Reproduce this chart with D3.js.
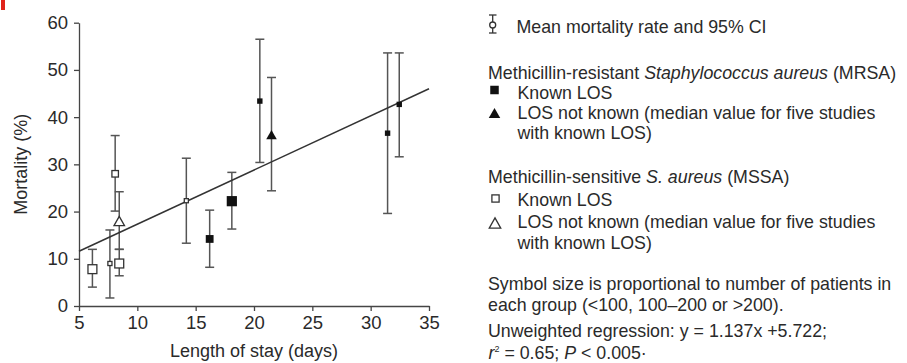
<!DOCTYPE html>
<html>
<head>
<meta charset="utf-8">
<script src="https://cdn.jsdelivr.net/npm/d3@7"></script>
<style>
  html, body { margin: 0; padding: 0; background: #fff; }
  svg { display: block; font-family: "Liberation Sans", Arial, Helvetica, sans-serif; }
</style>
</head>
<body>
<svg id="chart" width="907" height="363"></svg>
<script>
// ---- data ----
const losDays   = [6.15, 7.65, 8.1, 8.45, 8.45, 14.2, 16.2, 18.1, 20.5, 21.5, 31.45, 32.45];
const mortality = [7.8, 9.0, 28.0, 17.8, 9.0, 22.3, 14.2, 22.2, 43.4, 36.1, 36.6, 42.7];
const ciLow     = [4.0, 1.7, 20.1, 12.0, 6.4, 13.3, 8.2, 16.3, 30.4, 24.4, 19.6, 31.6];
const ciHigh    = [12.0, 16.1, 36.1, 24.2, 12.0, 31.3, 20.3, 28.3, 56.5, 48.4, 53.6, 53.6];
const organism  = ["MSSA","MSSA","MSSA","MSSA","MSSA","MSSA","MRSA","MRSA","MRSA","MRSA","MRSA","MRSA"];
const losKnown  = [true, true, true, false, true, true, true, true, true, false, true, true];
const sizeGroup = ["large","small","medium","medium","large","small","medium","large","small","medium","small","small"];
const regressionLos  = [5, 35];
const regressionMort = [11.6, 46.0];
const xTicks = [5, 10, 15, 20, 25, 30, 35];
const yTicks = [0, 10, 20, 30, 40, 50, 60];
const xLabel = "Length of stay (days)";
const yLabel = "Mortality (%)";

// ---- setup ----
const svg = d3.select("#chart");
const textCol = "#2a2a2a", axisCol = "#454545", barCol = "#555", markCol = "#111";
const x = d3.scaleLinear().domain([5, 35]).range([79, 429]);
const y = d3.scaleLinear().domain([0, 60]).range([306, 22.7]);
const sizePx = { small: 5.4, medium: 7.8, large: 10.2 };

// red corner mark
svg.append("rect").attr("x", 1).attr("y", 0).attr("width", 4).attr("height", 10).attr("fill", "#e0241b");

// axes
const gx = svg.append("g").attr("transform", `translate(0,${y(0)})`)
  .call(d3.axisBottom(x).tickValues(xTicks).tickSize(5).tickPadding(5).tickSizeOuter(0));
const gy = svg.append("g").attr("transform", `translate(${x(5)},0)`)
  .call(d3.axisLeft(y).tickValues(yTicks).tickSize(5).tickPadding(6).tickSizeOuter(0));
[gx, gy].forEach(g => {
  g.selectAll("path,line").attr("stroke", axisCol).attr("stroke-width", 1.3);
  g.selectAll("text").attr("fill", textCol).attr("font-size", 18.5).attr("font-family", "Liberation Sans, Arial, sans-serif");
});

svg.append("text").attr("x", x(20)).attr("y", 357).attr("text-anchor", "middle")
  .attr("font-size", 18).attr("fill", textCol).text(xLabel);
svg.append("text").attr("transform", `translate(26.5,${(y(0)+y(60))/2}) rotate(-90)`)
  .attr("text-anchor", "middle").attr("font-size", 18).attr("fill", textCol).text(yLabel);

// data rows
const rows = losDays.map((d, i) => ({
  los: d, mort: mortality[i], lo: ciLow[i], hi: ciHigh[i],
  org: organism[i], known: losKnown[i], size: sizePx[sizeGroup[i]]
}));

// error bars
const eb = svg.append("g").attr("stroke", barCol).attr("stroke-width", 1.5);
rows.forEach(r => {
  eb.append("line").attr("x1", x(r.los)).attr("x2", x(r.los)).attr("y1", y(r.lo)).attr("y2", y(r.hi));
  [r.lo, r.hi].forEach(v => eb.append("line")
    .attr("x1", x(r.los) - 4.5).attr("x2", x(r.los) + 4.5).attr("y1", y(v)).attr("y2", y(v)));
});

// regression line
svg.append("line")
  .attr("x1", x(regressionLos[0])).attr("y1", y(regressionMort[0]))
  .attr("x2", x(regressionLos[1])).attr("y2", y(regressionMort[1]))
  .attr("stroke", "#333").attr("stroke-width", 1.5);

// markers
function drawSymbol(g, cx, cy, s, shape, filled) {
  const fill = filled ? markCol : "#fff";
  const stroke = filled ? "none" : "#333";
  if (shape === "square") {
    const w = filled ? s : s - 1.3;
    g.append("rect").attr("x", cx - w/2).attr("y", cy - w/2).attr("width", w).attr("height", w)
      .attr("fill", fill).attr("stroke", stroke).attr("stroke-width", 1.3);
  } else {
    const w = s * 1.35, h = s * 1.2;
    g.append("path").attr("d", `M${cx},${cy - h*0.6}L${cx + w/2},${cy + h*0.4}L${cx - w/2},${cy + h*0.4}Z`)
      .attr("fill", fill).attr("stroke", stroke).attr("stroke-width", 1.3).attr("stroke-linejoin", "miter");
  }
}
const mk = svg.append("g");
rows.forEach(r => drawSymbol(mk, x(r.los), y(r.mort), r.size, r.known ? "square" : "triangle", r.org === "MRSA"));

// ---- legend ----
const lg = svg.append("g").attr("fill", textCol).attr("font-size", 17.8);
function line(xp, yp, parts) {
  const t = lg.append("text").attr("x", xp).attr("y", yp);
  parts.forEach(p => {
    const ts = t.append("tspan").text(p.t);
    if (p.i) ts.attr("font-style", "italic");
    if (p.sup) ts.attr("font-size", 9).attr("dy", -7);
    if (p.down) ts.attr("dy", 7);
  });
  return t;
}
// CI icon
const ic = svg.append("g").attr("stroke", "#333").attr("stroke-width", 1.3).attr("fill", "none");
ic.append("line").attr("x1", 492.7).attr("x2", 492.7).attr("y1", 15).attr("y2", 33);
ic.append("line").attr("x1", 489).attr("x2", 496.5).attr("y1", 15).attr("y2", 15);
ic.append("line").attr("x1", 489).attr("x2", 496.5).attr("y1", 33).attr("y2", 33);
ic.append("circle").attr("cx", 492.7).attr("cy", 25).attr("r", 3).attr("fill", "#fff");

line(516.5, 33, [{t: "Mean mortality rate and 95% CI"}]);
line(488, 78.6, [{t: "Methicillin-resistant "}, {t: "Staphylococcus aureus", i: true}, {t: " (MRSA)"}]);
drawSymbol(svg, 494.5, 90, 8.5, "square", true);
line(517.5, 98.8, [{t: "Known LOS"}]);
drawSymbol(svg, 494.5, 114, 8.5, "triangle", true);
line(517.5, 119, [{t: "LOS not known (median value for five studies"}]);
line(517.5, 139.3, [{t: "with known LOS)"}]);
line(488, 183.3, [{t: "Methicillin-sensitive "}, {t: "S. aureus", i: true}, {t: " (MSSA)"}]);
drawSymbol(svg, 495.5, 198.5, 8.5, "square", false);
line(517.5, 206.2, [{t: "Known LOS"}]);
drawSymbol(svg, 495, 224, 8.5, "triangle", false);
line(517.5, 227.5, [{t: "LOS not known (median value for five studies"}]);
line(517.5, 248.5, [{t: "with known LOS)"}]);
line(488, 289.5, [{t: "Symbol size is proportional to number of patients in"}]);
line(488, 310.5, [{t: "each group (<100, 100–200 or >200)."}]);
line(488, 337, [{t: "Unweighted regression: y = 1.137x +5.722;"}]);
line(488.5, 358.5, [{t: "r", i: true}, {t: "2", sup: true}, {t: " = 0.65; ", down: true}, {t: "P", i: true}, {t: " < 0.005·"}]);
</script>
</body>
</html>
